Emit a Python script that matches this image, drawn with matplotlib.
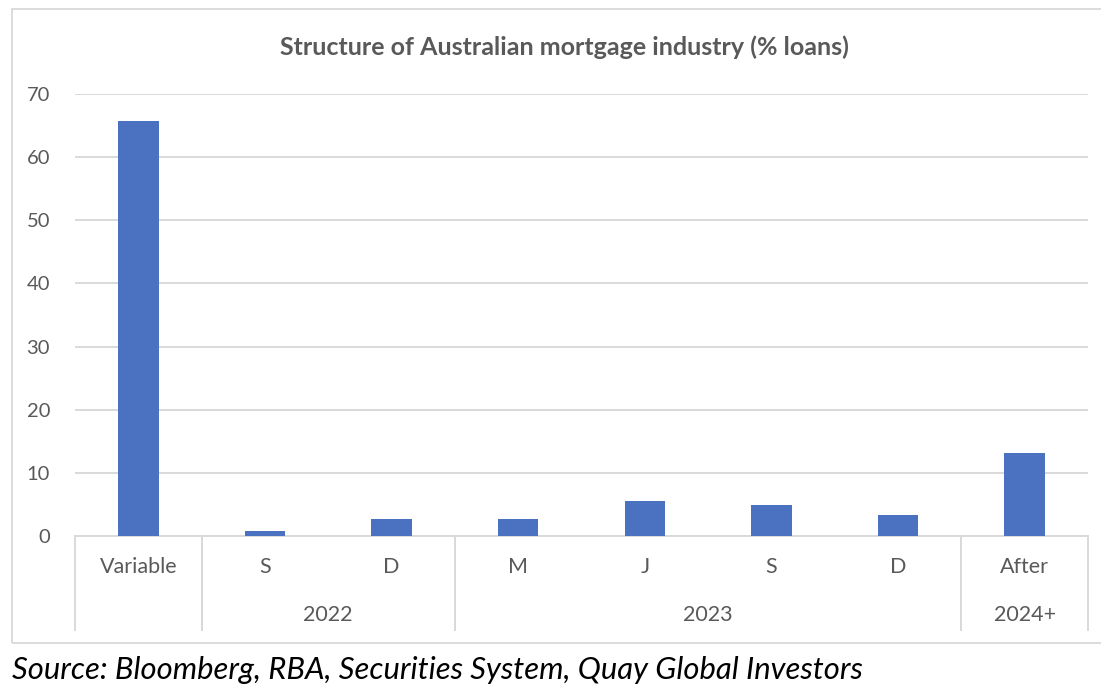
import matplotlib.pyplot as plt
from matplotlib.patches import Rectangle

# data
categories = ['Variable', 'S', 'D', 'M', 'J', 'S', 'D', 'After']
values = [65.8, 0.8, 2.7, 2.7, 5.6, 4.9, 3.3, 13.2]
groups = ['', '2022', '2023', '2024+']
group_spans = [(0, 0), (1, 2), (3, 6), (7, 7)]
yticks = [0, 10, 20, 30, 40, 50, 60, 70]

W, H = 1101, 699
fig = plt.figure(figsize=(W / 100, H / 100), dpi=100)
plt.rcParams['font.family'] = ['Lato', 'DejaVu Sans']

grey = '#595959'
line_grey = '#d9d9d9'

# chart border (Excel style)
fig.patches.append(Rectangle((12 / W, 1 - 643 / H), (W + 20) / W, (643 - 9) / H,
                             transform=fig.transFigure, fill=False,
                             edgecolor=line_grey, linewidth=1.3))

ax = fig.add_axes([75 / W, 1 - 536 / H, (1088 - 75) / W, (536 - 94) / H])
x = list(range(len(categories)))
ax.bar(x, values, width=0.32, color='#4A72C0', zorder=3)

ax.set_xlim(-0.5, len(categories) - 0.5)
ax.set_ylim(0, 70)
ax.set_yticks(yticks)
ax.set_yticklabels([str(t) for t in yticks], color=grey, fontsize=14.5)
ax.tick_params(axis='y', length=0, pad=18)
ax.set_xticks([])
ax.yaxis.grid(True, color=line_grey, linewidth=1.4, zorder=0)
for s in ['top', 'right', 'left']:
    ax.spines[s].set_visible(False)
ax.spines['bottom'].set_color(line_grey)
ax.spines['bottom'].set_linewidth(1.4)

tr = ax.get_xaxis_transform()
axh = 536 - 94
for i, c in enumerate(categories):
    ax.text(i, -31 / axh, c, transform=tr, ha='center', va='center',
            color=grey, fontsize=15.5)

bottom = -94 / axh
for g, (a, b) in zip(groups, group_spans):
    ax.text((a + b) / 2, -79 / axh, g, transform=tr, ha='center', va='center',
            color=grey, fontsize=15.5)
    for edge in (a - 0.5, b + 0.5):
        ax.plot([edge, edge], [0, bottom], transform=tr, color=line_grey,
                linewidth=1.4, clip_on=False)

fig.text(564 / W, 1 - 47 / H, 'Structure of Australian mortgage industry (% loans)',
         ha='center', va='center', color=grey, fontsize=18, fontweight='bold')

fig.text(12 / W, 1 - 670 / H, 'Source: Bloomberg, RBA, Securities System, Quay Global Investors',
         ha='left', va='center', color='black', fontsize=22.3, style='italic')

fig.savefig('out.png', dpi=100)
